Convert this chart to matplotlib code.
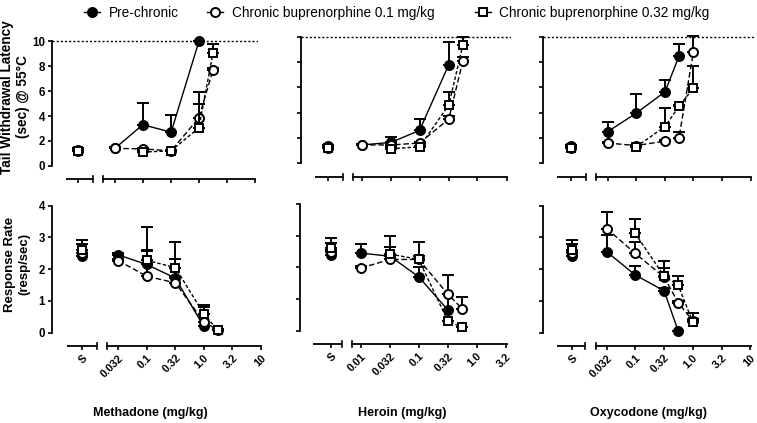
import numpy as np
import matplotlib
matplotlib.use('Agg')
import matplotlib.pyplot as plt
from matplotlib.lines import Line2D

plt.rcParams['font.family'] = ['Liberation Sans', 'DejaVu Sans']

W, H = 757, 423

# ---------------- data ----------------
meth_ticks = [0.032, 0.1, 0.32, 1.0, 3.2, 10]
meth_ticklabels = ['0.032', '0.1', '0.32', '1.0', '3.2', '10']
her_ticks = [0.01, 0.032, 0.1, 0.32, 1.0, 3.2]
her_ticklabels = ['0.01', '0.032', '0.1', '0.32', '1.0', '3.2']
oxy_ticks = [0.032, 0.1, 0.32, 1.0, 3.2, 10]
oxy_ticklabels = ['0.032', '0.1', '0.32', '1.0', '3.2', '10']

groups = ['pre', 'b01', 'b032']
group_labels = ['Pre-chronic', 'Chronic buprenorphine 0.1 mg/kg',
                'Chronic buprenorphine 0.32 mg/kg']

# methadone
meth_doses = {'pre': [0.032, 0.1, 0.32, 1.0],
              'b01': [0.032, 0.1, 0.32, 1.0, 1.78],
              'b032': [0.1, 0.32, 1.0, 1.78]}
meth_twl = {'pre': [1.4, 3.3, 2.7, 10.0],
            'b01': [1.4, 1.35, 1.2, 3.85, 7.7],
            'b032': [1.1, 1.2, 3.05, 9.05]}
meth_twl_err = {'pre': [0.1, 1.75, 1.4, 0.0],
                'b01': [0.05, 0.1, 0.1, 2.05, 0.2],
                'b032': [0.1, 0.1, 1.9, 0.75]}
meth_rr = {'pre': [2.45, 2.15, 1.72, 0.2],
           'b01': [2.27, 1.78, 1.57, 0.35, 0.08],
           'b032': [2.28, 2.05, 0.6, 0.07]}
meth_rr_err = {'pre': [0.05, 0.45, 0.6, 0.0],
               'b01': [0.05, 0.78, 0.2, 0.45, 0.05],
               'b032': [1.05, 0.8, 0.27, 0.05]}
meth_s_twl = [1.3, 1.15, 1.15]
meth_s_twl_err = [0.1, 0.05, 0.15]
meth_s_rr = [2.4, 2.5, 2.6]
meth_s_rr_err = [0.2, 0.29, 0.33]

# heroin
her_doses = {'pre': [0.01, 0.032, 0.1, 0.32],
             'b01': [0.01, 0.032, 0.1, 0.32, 0.56],
             'b032': [0.032, 0.1, 0.32, 0.56]}
her_twl = {'pre': [1.45, 1.65, 2.6, 7.8],
           'b01': [1.45, 1.45, 1.6, 3.5, 8.1],
           'b032': [1.15, 1.3, 4.6, 9.35]}
her_twl_err = {'pre': [0.05, 0.4, 0.9, 1.75],
               'b01': [0.05, 0.1, 0.1, 0.2, 0.3],
               'b032': [0.1, 0.1, 1.05, 0.65]}
her_rr = {'pre': [2.45, 2.35, 1.7, 0.65],
          'b01': [1.98, 2.25, 2.25, 1.15, 0.7],
          'b032': [2.42, 2.25, 0.3, 0.11]}
her_rr_err = {'pre': [0.3, 0.3, 0.3, 0.5],
              'b01': [0.05, 0.1, 0.1, 0.6, 0.37],
              'b032': [0.57, 0.55, 0.0, 0.0]}
her_s_twl = [1.35, 1.2, 1.2]
her_s_twl_err = [0.1, 0.05, 0.1]
her_s_rr = [2.4, 2.5, 2.6]
her_s_rr_err = [0.15, 0.28, 0.32]

# oxycodone
oxy_doses = {'pre': [0.032, 0.1, 0.32, 0.56],
             'b01': [0.032, 0.1, 0.32, 0.56, 1.0],
             'b032': [0.1, 0.32, 0.56, 1.0]}
oxy_twl = {'pre': [2.5, 3.95, 5.65, 8.45],
           'b01': [1.6, 1.4, 1.75, 2.0, 8.8],
           'b032': [1.3, 2.9, 4.5, 5.95]}
oxy_twl_err = {'pre': [0.8, 1.55, 0.95, 1.0],
               'b01': [0.05, 0.05, 0.1, 0.5, 1.25],
               'b032': [0.05, 1.45, 0.1, 1.7]}
oxy_rr = {'pre': [2.55, 1.82, 1.32, 0.06],
          'b01': [3.28, 2.5, 1.75, 0.95, 0.38],
          'b032': [3.13, 1.78, 1.5, 0.35]}
oxy_rr_err = {'pre': [0.53, 0.27, 0.1, 0.0],
              'b01': [0.53, 0.35, 0.28, 0.05, 0.05],
              'b032': [0.45, 0.47, 0.3, 0.27]}
oxy_s_rr = [2.4, 2.5, 2.6]
oxy_s_rr_err = [0.15, 0.28, 0.32]
oxy_s_twl = [1.35, 1.2, 1.2]
oxy_s_twl_err = [0.1, 0.05, 0.1]

# ---------------- styles ----------------
styles = {
    'pre': dict(marker='o', mfc='black', ls='-', ms=6.5),
    'b01': dict(marker='o', mfc='white', ls=(0, (4, 2)), ms=6.5),
    'b032': dict(marker='s', mfc='white', ls=(0, (2.5, 1.5)), ms=6.2),
}

# layout of each panel in pixels:
# spine x, first/last tick x, S x, left segment, right segment, right edge,
# y of value 0, y of top tick, y of x axis line, top of axes
layouts = {
    'meth_top': dict(spine=52, t0=115, t1=255, s=78.3, lseg=(66, 93.3), rseg=(103.3, 255),
                     right=258, y0=165.7, ytop=41.5, axis=179.5, top=33),
    'her_top': dict(spine=300.7, t0=361.7, t1=506.7, s=327.7, lseg=(315, 343), rseg=(353, 507),
                    right=511, y0=163.3, ytop=36.7, axis=176.7, top=29),
    'oxy_top': dict(spine=543.3, t0=607.7, t1=750.7, s=571, lseg=(557, 586), rseg=(596, 751),
                    right=756, y0=163.3, ytop=36.7, axis=176.7, top=29),
    'meth_bot': dict(spine=51.7, t0=118.3, t1=260.7, s=81.7, lseg=(66.7, 96.7), rseg=(106.7, 261),
                     right=263, y0=332.7, ytop=205.7, axis=346, top=199),
    'her_bot': dict(spine=300, t0=361, t1=505.7, s=330.7, lseg=(313.3, 341.7), rseg=(352.3, 506.5),
                    right=510, y0=330.7, ytop=204, axis=344.3, top=197),
    'oxy_bot': dict(spine=542.7, t0=606.7, t1=750, s=571.7, lseg=(556.7, 585), rseg=(596, 750.5),
                    right=756, y0=332.7, ytop=205.7, axis=346, top=199),
}

fig = plt.figure(figsize=(W / 100, H / 100), dpi=100)


def draw_panel(key, ticks, ticklabels, doses, means, errs, s_means, s_errs,
               ymax, yticks, show_ylabels, show_xlabels, dotted=False):
    L = layouts[key]
    lt0, lt1 = np.log10(ticks[0]), np.log10(ticks[-1])

    def px2x(p):
        return 10 ** (lt0 + (p - L['t0']) * (lt1 - lt0) / (L['t1'] - L['t0']))

    ppu = (L['y0'] - L['ytop']) / ymax

    def px2y(p):
        return (L['y0'] - p) / ppu

    ax = fig.add_axes([L['spine'] / W, 1 - L['axis'] / H,
                       (L['right'] - L['spine']) / W, (L['axis'] - L['top']) / H])
    ax.set_xscale('log')
    ax.set_xlim(px2x(L['spine']), px2x(L['right']))
    ylo, yhi = px2y(L['axis']), px2y(L['top'])
    ax.set_ylim(ylo, yhi)

    for sp in ['top', 'right']:
        ax.spines[sp].set_visible(False)
    for sp in ['left', 'bottom']:
        ax.spines[sp].set_linewidth(1.3)
    ax.spines['left'].set_bounds(0, ymax)
    ax.spines['bottom'].set_bounds(px2x(L['rseg'][0]), px2x(L['rseg'][1]))

    # left (S) segment of the broken axis and break marks
    ax.plot([px2x(L['lseg'][0]), px2x(L['lseg'][1])], [ylo, ylo], color='black',
            lw=1.3, clip_on=False, solid_capstyle='butt')
    dy = 3 / ppu
    for p in [L['lseg'][1], L['rseg'][0]]:
        ax.plot([px2x(p)] * 2, [ylo - dy, ylo + dy], color='black', lw=1.2, clip_on=False)

    s_pos = px2x(L['s'])
    ax.xaxis.set_minor_locator(plt.NullLocator())
    ax.set_xticks([s_pos] + list(ticks))
    if show_xlabels:
        ax.set_xticklabels(['S'] + list(ticklabels), rotation=45, ha='right',
                           rotation_mode='anchor', fontsize=7.8, fontweight='bold')
    else:
        ax.set_xticklabels([])
    ax.set_yticks(yticks)
    if show_ylabels:
        ax.set_yticklabels([str(v) for v in yticks], fontsize=8.3, fontweight='bold')
    else:
        ax.set_yticklabels([])
    ax.tick_params(axis='both', direction='out', length=3, width=1.2, pad=2)

    if dotted:
        ax.axhline(ymax, color='black', lw=1.0, ls=(0, (1.5, 1.5)), zorder=1)

    for i, g in enumerate(groups):
        st = styles[g]
        d = np.array(doses[g])
        m = np.array(means[g])
        e = np.array(errs[g])
        ax.errorbar(d, m, yerr=[np.zeros_like(e), e], color='black', ecolor='black',
                    marker=st['marker'], mfc=st['mfc'], mec='black', ms=st['ms'], mew=1.4,
                    ls=st['ls'], lw=1.0, elinewidth=1.4, capsize=4, capthick=1.4,
                    zorder=3 + i, clip_on=False)
        ax.errorbar([s_pos], [s_means[i]], yerr=[[0], [s_errs[i]]], color='black',
                    marker=st['marker'], mfc=st['mfc'], mec='black', ms=st['ms'], mew=1.4,
                    ls='none', elinewidth=1.4, capsize=4, capthick=1.4, zorder=3 + i,
                    clip_on=False)
    return ax


draw_panel('meth_top', meth_ticks, meth_ticklabels, meth_doses, meth_twl, meth_twl_err,
           meth_s_twl, meth_s_twl_err, 10, [0, 2, 4, 6, 8, 10], True, False, dotted=True)
draw_panel('her_top', her_ticks, her_ticklabels, her_doses, her_twl, her_twl_err,
           her_s_twl, her_s_twl_err, 10, [0, 2, 4, 6, 8, 10], False, False, dotted=True)
draw_panel('oxy_top', oxy_ticks, oxy_ticklabels, oxy_doses, oxy_twl, oxy_twl_err,
           oxy_s_twl, oxy_s_twl_err, 10, [0, 2, 4, 6, 8, 10], False, False, dotted=True)
draw_panel('meth_bot', meth_ticks, meth_ticklabels, meth_doses, meth_rr, meth_rr_err,
           meth_s_rr, meth_s_rr_err, 4, [0, 1, 2, 3, 4], True, True)
draw_panel('her_bot', her_ticks, her_ticklabels, her_doses, her_rr, her_rr_err,
           her_s_rr, her_s_rr_err, 4, [0, 1, 2, 3, 4], False, True)
draw_panel('oxy_bot', oxy_ticks, oxy_ticklabels, oxy_doses, oxy_rr, oxy_rr_err,
           oxy_s_rr, oxy_s_rr_err, 4, [0, 1, 2, 3, 4], False, True)

# y-axis titles
fig.text(15 / W, 1 - 97 / H, 'Tail Withdrawal Latency\n(sec) @ 55°C', rotation=90,
         ha='center', va='center', multialignment='center', fontsize=9.8,
         fontweight='bold', linespacing=1.1)
fig.text(17 / W, 1 - 264 / H, 'Response Rate\n(resp/sec)', rotation=90,
         ha='center', va='center', multialignment='center', fontsize=9.5,
         fontweight='bold', linespacing=1.3)

# x-axis titles
for label, xc in [('Methadone (mg/kg)', 150), ('Heroin (mg/kg)', 402),
                  ('Oxycodone (mg/kg)', 648)]:
    fig.text(xc / W, 1 - 413 / H, label, ha='center', va='center', fontsize=9,
             fontweight='bold')

# legend along the top
legend_x = [84, 207, 475]
for g, lab, lx in zip(groups, group_labels, legend_x):
    st = styles[g]
    h = Line2D([0], [0], color='black', marker=st['marker'], mfc=st['mfc'], mec='black',
               ms=st['ms'], mew=1.4, lw=1.0)
    fig.legend(handles=[h], labels=[lab], loc='center left',
               bbox_to_anchor=(lx / W, 1 - 13 / H), frameon=False, fontsize=9.8,
               handlelength=1.2, handletextpad=0.6, borderpad=0, borderaxespad=0)

fig.savefig('out.png', dpi=100)
